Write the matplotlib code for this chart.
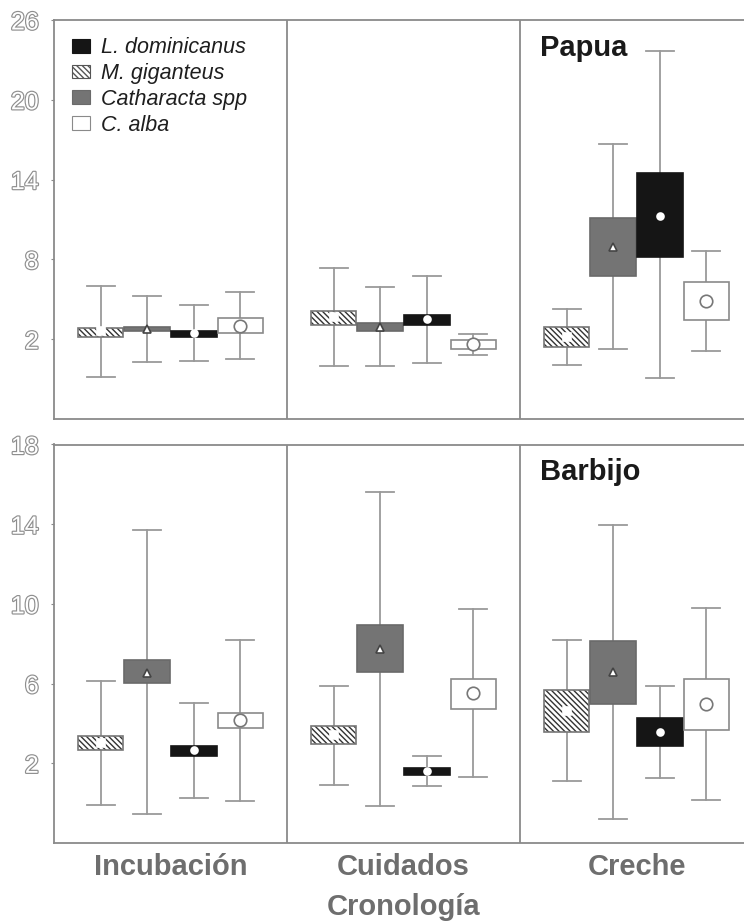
import matplotlib
matplotlib.use("Agg")
import matplotlib.pyplot as plt
import matplotlib.patheffects as pe
from matplotlib.patches import Patch, Rectangle

# Phases of the breeding season and the two colonies
phases = ["Incubación", "Cuidados", "Creche"]
colonies = ["Papua", "Barbijo"]
species = ["M. giganteus", "Catharacta spp", "L. dominicanus", "C. alba"]

# Papua colony: mean, box low/high, whisker low/high per phase
papua_mean = {
    "M. giganteus":   [2.6, 3.68, 2.18],
    "Catharacta spp": [2.75, 2.93, 8.94],
    "L. dominicanus": [2.5, 3.53, 11.3],
    "C. alba":        [3.03, 1.63, 4.87],
}
papua_box_lo = {
    "M. giganteus":   [2.18, 3.1, 1.4],
    "Catharacta spp": [2.58, 2.63, 6.75],
    "L. dominicanus": [2.18, 3.05, 8.17],
    "C. alba":        [2.43, 1.25, 3.43],
}
papua_box_hi = {
    "M. giganteus":   [2.85, 4.12, 2.9],
    "Catharacta spp": [2.95, 3.23, 11.1],
    "L. dominicanus": [2.65, 3.85, 14.5],
    "C. alba":        [3.62, 1.93, 6.3],
}
papua_wh_lo = {
    "M. giganteus":   [-0.87, 0.0, 0.05],
    "Catharacta spp": [0.31, 0.0, 1.25],
    "L. dominicanus": [0.33, 0.2, -0.94],
    "C. alba":        [0.53, 0.83, 1.13],
}
papua_wh_hi = {
    "M. giganteus":   [6.0, 7.37, 4.25],
    "Catharacta spp": [5.25, 5.94, 16.7],
    "L. dominicanus": [4.57, 6.77, 23.7],
    "C. alba":        [5.52, 2.4, 8.64],
}

# Barbijo colony
barbijo_mean = {
    "M. giganteus":   [3.02, 3.44, 4.61],
    "Catharacta spp": [6.55, 7.76, 6.58],
    "L. dominicanus": [2.65, 1.61, 3.57],
    "C. alba":        [4.17, 5.51, 4.96],
}
barbijo_box_lo = {
    "M. giganteus":   [2.65, 2.99, 3.59],
    "Catharacta spp": [6.03, 6.57, 5.0],
    "L. dominicanus": [2.39, 1.43, 2.87],
    "C. alba":        [3.76, 4.71, 3.67],
}
barbijo_box_hi = {
    "M. giganteus":   [3.36, 3.86, 5.66],
    "Catharacta spp": [7.17, 8.93, 8.14],
    "L. dominicanus": [2.85, 1.75, 4.29],
    "C. alba":        [4.54, 6.25, 6.25],
}
barbijo_wh_lo = {
    "M. giganteus":   [-0.11, 0.93, 1.11],
    "Catharacta spp": [-0.56, -0.16, -0.81],
    "L. dominicanus": [0.26, 0.85, 1.26],
    "C. alba":        [0.13, 1.3, 0.14],
}
barbijo_wh_hi = {
    "M. giganteus":   [6.13, 5.87, 8.19],
    "Catharacta spp": [13.7, 15.64, 13.96],
    "L. dominicanus": [5.05, 2.35, 5.88],
    "C. alba":        [8.19, 9.72, 9.8],
}

papua_ticks = [2, 8, 14, 20, 26]
barbijo_ticks = [2, 6, 10, 14, 18]

# Styling per species
GRID = "#8a8a8a"
style = {
    "M. giganteus":   dict(face="white", edge="#333333", hatch="\\\\\\\\\\\\", outline="#777777",
                           marker="s", msize=6, mface="white", medge="white"),
    "Catharacta spp": dict(face="#747474", edge="#6a6a6a", hatch=None, outline="#6a6a6a",
                           marker="^", msize=6, mface="white", medge="#444444"),
    "L. dominicanus": dict(face="#151515", edge="#151515", hatch=None, outline="#151515",
                           marker="o", msize=5, mface="white", medge="white"),
    "C. alba":        dict(face="white", edge="#8a8a8a", hatch=None, outline="#8a8a8a",
                           marker="o", msize=9, mface="white", medge="#777777"),
}
offsets = [-0.30, -0.10, 0.10, 0.30]
box_w = 0.195
cap_w = 0.12

W, H = 744, 923
fig = plt.figure(figsize=(W / 100, H / 100), dpi=100)
ax_top = fig.add_axes([54 / W, 1 - 419 / H, 699 / W, 399 / H])
ax_bot = fig.add_axes([54 / W, 1 - 843 / H, 699 / W, 398.5 / H])

outline_fx = [pe.Stroke(linewidth=1.7, foreground="#8f8f8f"), pe.Normal()]


def draw_panel(ax, means, blo, bhi, wlo, whi, ylim, ticks):
    ax.set_xlim(0, 3)
    ax.set_ylim(*ylim)
    for s in ax.spines.values():
        s.set_color(GRID)
        s.set_linewidth(1.3)
    for xv in (1, 2):
        ax.axvline(xv, color=GRID, lw=1.3, zorder=1)
    ax.set_xticks([])
    ax.set_yticks(ticks)
    ax.set_yticklabels([str(t) for t in ticks])
    ax.tick_params(axis="y", length=2, color=GRID, pad=9)
    for lab in ax.get_yticklabels():
        lab.set_fontsize(18)
        lab.set_color("white")
        lab.set_family("Liberation Sans")
        lab.set_path_effects(outline_fx)
    for p in range(3):
        for k, sp in enumerate(species):
            st = style[sp]
            x = p + 0.5 + offsets[k]
            # whisker line and caps
            ax.plot([x, x], [wlo[sp][p], whi[sp][p]], color="#9a9a9a", lw=1.3, zorder=2)
            for yv in (wlo[sp][p], whi[sp][p]):
                ax.plot([x - cap_w / 2, x + cap_w / 2], [yv, yv], color="#9a9a9a", lw=1.3, zorder=2)
            # box
            lo, hi = blo[sp][p], bhi[sp][p]
            ax.add_patch(Rectangle((x - box_w / 2, lo), box_w, hi - lo,
                                   facecolor=st["face"], edgecolor=st["edge"],
                                   hatch=st["hatch"], lw=0, zorder=3))
            ax.add_patch(Rectangle((x - box_w / 2, lo), box_w, hi - lo,
                                   facecolor="none", edgecolor=st["outline"],
                                   lw=1.2, zorder=4))
            # mean marker
            ax.plot([x], [means[sp][p]], marker=st["marker"], ms=st["msize"],
                    mfc=st["mface"], mec=st["medge"], mew=1.2, zorder=5, ls="none")
    return ax


draw_panel(ax_top, papua_mean, papua_box_lo, papua_box_hi, papua_wh_lo, papua_wh_hi,
           (-4, 26), papua_ticks)
draw_panel(ax_bot, barbijo_mean, barbijo_box_lo, barbijo_box_hi, barbijo_wh_lo, barbijo_wh_hi,
           (-2, 18), barbijo_ticks)

# Colony names
for ax, name in ((ax_top, colonies[0]), (ax_bot, colonies[1])):
    ax.text(2.085, 0.965, name, transform=ax.get_xaxis_transform(),
            fontsize=21, fontweight="bold", color="#1a1a1a", family="Liberation Sans",
            va="top", ha="left")

# Legend
legend_order = ["L. dominicanus", "M. giganteus", "Catharacta spp", "C. alba"]
handles = []
for sp in legend_order:
    st = style[sp]
    handles.append(Patch(facecolor=st["face"],
                         edgecolor=st["outline"] if sp != "M. giganteus" else "#555555",
                         hatch=st["hatch"], lw=0.8))
leg = ax_top.legend(handles, legend_order, loc="upper left", bbox_to_anchor=(0.013, 0.978),
                    frameon=False, handlelength=0.85, handleheight=0.6, handletextpad=0.5,
                    labelspacing=0.22, borderaxespad=0,
                    prop=dict(family="Liberation Sans", style="italic", size=15.5))
for t in leg.get_texts():
    t.set_color("#1e1e1e")

# Phase labels and axis title
for p, name in enumerate(phases):
    ax_bot.text(p + 0.5, -0.025, name, transform=ax_bot.get_xaxis_transform(),
                ha="center", va="top", fontsize=21, fontweight="bold", color="#6e6e6e",
                family="Liberation Sans")
fig.text((54 + 349.5) / W, 1 - 907 / H, "Cronología", ha="center", va="center",
         fontsize=21, fontweight="bold", color="#6e6e6e", family="Liberation Sans")

fig.savefig("out.png", dpi=100, facecolor="white")
